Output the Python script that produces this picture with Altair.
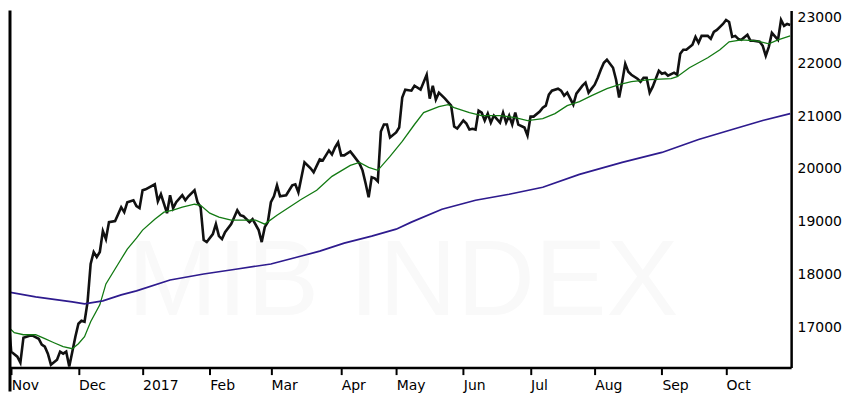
import json

import altair as alt
import pandas as pd

# x = trading day counted from 1 Nov 2016 (day 0), y = index level
close_day = [-1, 0, 2, 3, 4, 6, 7, 9, 10, 11, 12, 13, 15, 16, 17, 18, 19, 20, 21, 22,
             23, 24, 25, 26, 27, 28, 29, 30, 31, 32, 34, 35, 36, 37, 38, 40, 41, 42, 43, 44,
             47, 48, 49, 51, 52, 53, 54, 56, 57, 58, 60, 61, 62, 63, 64, 66, 67, 68, 69, 70,
             72, 73, 74, 75, 76, 78, 79, 81, 82, 83, 84, 85, 86, 87, 88, 90, 91, 92, 93, 94,
             96, 98, 99, 101, 102, 104, 105, 106, 107, 108, 109, 111, 112, 114, 115, 116, 117, 118, 119, 120,
             121, 122, 123, 124, 126, 127, 128, 129, 131, 132, 134, 136, 137, 138, 139, 140, 142, 144, 145, 146,
             148, 149, 150, 151, 152, 153, 154, 155, 156, 157, 158, 160, 161, 162, 163, 164, 165, 166, 168, 169,
             170, 171, 173, 174, 175, 176, 177, 179, 180, 181, 182, 184, 185, 187, 188, 189, 190, 191, 192, 193,
             194, 195, 197, 198, 199, 200, 201, 202, 203, 205, 206, 207, 208, 209, 210, 212, 213, 214, 215, 217,
             218, 219, 220, 221, 223, 224, 225, 226, 228, 229, 230, 231, 233, 234, 235, 236, 237, 238, 239, 241,
             242, 243, 245, 246, 247, 248, 249, 251, 252, 253, 254, 255]
close_val = [17255, 16538, 16443, 16330, 16802, 16840, 16840, 16783, 16670, 16632, 16500, 16292, 16387, 16538, 16500, 16538, 16255, 16538, 16821, 17066,
             17123, 17104, 17481, 18198, 18425, 18330, 18425, 18821, 18670, 18991, 19010, 19142, 19274, 19180, 19368, 19406, 19293, 19255, 19594, 19613,
             19708, 19387, 19519, 19161, 19500, 19255, 19368, 19500, 19406, 19481, 19594, 19368, 19274, 18651, 18613, 18765, 18953, 18726, 18670, 18802,
             18953, 19085, 19217, 19123, 19104, 18991, 19047, 18840, 18613, 18896, 18991, 19368, 19481, 19689, 19481, 19500, 19594, 19689, 19708, 19556,
             20123, 20010, 19934, 20179, 20160, 20349, 20273, 20405, 20500, 20255, 20255, 20330, 20255, 20104, 19972, 19727, 19462, 19840, 19821, 19764,
             20708, 20840, 20840, 20594, 20689, 20783, 21349, 21500, 21481, 21575, 21500, 21783, 21330, 21575, 21311, 21443, 21330, 21198, 20802, 20764,
             20915, 20858, 20745, 20760, 20745, 21103, 21066, 20915, 21047, 20877, 21009, 20877, 21066, 20877, 21009, 20839, 21066, 20839, 20783, 20632,
             20990, 20990, 21085, 21160, 21198, 21406, 21481, 21519, 21481, 21387, 21443, 21217, 21425, 21575, 21632, 21443, 21519, 21594, 21726, 21877,
             22009, 22066, 21915, 21689, 21349, 21651, 21990, 21840, 21783, 21707, 21651, 21726, 21726, 21443, 21556, 21858, 21802, 21821, 21764, 21821,
             21783, 22179, 22255, 22255, 22349, 22500, 22387, 22519, 22519, 22462, 22594, 22632, 22745, 22821, 22783, 22500, 22519, 22462, 22443, 22538,
             22425, 22425, 22406, 22330, 22141, 22311, 22575, 22443, 22821, 22708, 22745, 22726]

ma50_day = [-1, 1, 4, 8, 11, 14, 17, 20, 22, 24, 26, 29, 31, 35, 38, 41, 43, 47, 50, 53,
            56, 60, 62, 65, 68, 72, 76, 80, 83, 87, 91, 95, 100, 105, 111, 114, 117, 120, 124, 128,
            132, 135, 140, 143, 145, 150, 154, 160, 165, 169, 174, 178, 182, 186, 190, 195, 199, 203, 209, 216,
            218, 222, 228, 232, 235, 239, 244, 248, 251, 255]
ma50_val = [17009, 16896, 16858, 16858, 16783, 16707, 16632, 16594, 16689, 16821, 17104, 17424, 17821, 18198, 18481, 18689, 18840, 19047, 19179, 19217,
            19274, 19330, 19311, 19160, 19085, 19028, 19028, 19028, 18953, 19123, 19274, 19425, 19594, 19858, 20066, 20123, 20028, 19972, 20236, 20519,
            20840, 21066, 21179, 21217, 21160, 21066, 21009, 21009, 20972, 20915, 20953, 21047, 21198, 21274, 21387, 21519, 21594, 21651, 21689, 21707,
            21745, 21915, 22104, 22255, 22406, 22443, 22425, 22368, 22443, 22519]

ma200_day = [-1, 8, 20, 24, 30, 36, 41, 52, 63, 74, 85, 95, 101, 109, 118, 126, 131, 141, 152, 163,
             174, 186, 200, 213, 225, 236, 246, 255]
ma200_val = [17670, 17575, 17481, 17443, 17500, 17613, 17689, 17896, 18009, 18104, 18198, 18349, 18443, 18594, 18726, 18858, 18991, 19236, 19406, 19519,
             19651, 19896, 20123, 20311, 20557, 20745, 20915, 21047]

month_day = [0, 22, 43, 65, 85, 108, 126, 148, 170, 191, 213, 234]
month_lbl = ["Nov", "Dec", "2017", "Feb", "Mar", "Apr", "May", "Jun", "Jul", "Aug", "Sep", "Oct"]
level_ticks = [17000, 18000, 19000, 20000, 21000, 22000, 23000]

df = pd.concat([
    pd.DataFrame({"day": close_day, "level": close_val, "series": "close"}),
    pd.DataFrame({"day": ma50_day, "level": ma50_val, "series": "ma50"}),
    pd.DataFrame({"day": ma200_day, "level": ma200_val, "series": "ma200"}),
])

label_expr = "{}[indexof({}, datum.value)]".format(json.dumps(month_lbl), json.dumps(month_day))
font = "DejaVu Sans"

x = alt.X("day:Q", title=None,
          scale=alt.Scale(domain=[-0.4, 255.3], nice=False, zero=False),
          axis=alt.Axis(values=month_day, labelExpr=label_expr, grid=False,
                        tickSize=7, tickWidth=2, tickColor="black",
                        domainColor="black", domainWidth=2.5,
                        labelAlign="left", labelFlush=False, labelPadding=4,
                        labelFont=font, labelFontSize=14, labelColor="black"))
y = alt.Y("level:Q", title=None,
          scale=alt.Scale(domain=[16236, 23000], nice=False, zero=False),
          axis=alt.Axis(orient="right", values=level_ticks, format="d", grid=False,
                        ticks=False, labelFlush=True, labelPadding=6,
                        domainColor="black", domainWidth=2.5,
                        labelFont=font, labelFontSize=14, labelColor="black"))

base = alt.Chart(df).encode(x=x, y=y)

close = base.transform_filter(alt.datum.series == "close").mark_line(
    color="#111111", strokeWidth=2.6, clip=True)
ma50 = base.transform_filter(alt.datum.series == "ma50").mark_line(
    color="#137a13", strokeWidth=1.3, clip=True)
ma200 = base.transform_filter(alt.datum.series == "ma200").mark_line(
    color="#2e1b8e", strokeWidth=1.7, clip=True)

watermark = alt.Chart(pd.DataFrame({"t": ["MIB INDEX"]})).mark_text(
    font="Liberation Sans", fontSize=108, color="#f9f9f9", align="center", baseline="middle"
).encode(text="t:N", x=alt.value(394), y=alt.value(273))

frame = alt.Chart(pd.DataFrame({"a": [0]})).mark_rule(color="black", strokeWidth=3).encode(
    x=alt.value(0), y=alt.value(0), y2=alt.value(382))

chart = alt.layer(watermark, close, ma50, ma200, frame).properties(
    width=783, height=358, padding=0
).configure_view(stroke=None)

chart.save("out.html", embed_options={"renderer": "svg", "actions": False})
